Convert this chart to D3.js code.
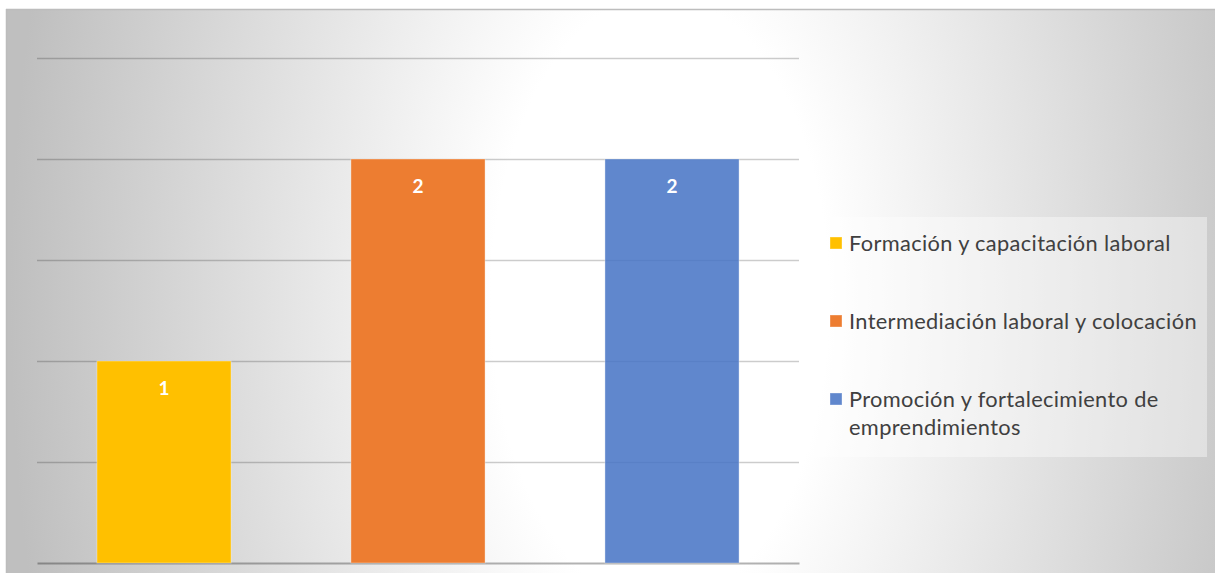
<!DOCTYPE html>
<html>
<head>
<meta charset="utf-8">
<script src="https://cdn.jsdelivr.net/npm/d3@7"></script>
<style>
  html, body { margin: 0; padding: 0; background: #ffffff; }
  svg { display: block; }
</style>
</head>
<body>
<svg id="chart" width="1215" height="573"></svg>
<script>
// Programs and how many each category counts
const categories = [
  "Formación y capacitación laboral",
  "Intermediación laboral y colocación",
  "Promoción y fortalecimiento de emprendimientos"
];
const values = [1, 2, 2];
const colors = ["#FFC000", "#ED7D31", "#4472C4"];
const fillOpacity = [1, 1, 0.85];
const legendLines = [
  ["Formación y capacitación laboral"],
  ["Intermediación laboral y colocación"],
  ["Promoción y fortalecimiento de", "emprendimientos"]
];
const gridTicks = [0.5, 1, 1.5, 2, 2.5];

const svg = d3.select("#chart");
const W = 1215, H = 573;

// Chart background: radial gradient, white in the middle, grey towards the sides
const defs = svg.append("defs");
const cx = 660, cy = 300;
const grad = defs.append("radialGradient")
  .attr("id", "bg")
  .attr("gradientUnits", "userSpaceOnUse")
  .attr("cx", cx).attr("cy", cy).attr("r", 650)
  .attr("gradientTransform", `translate(${cx},${cy}) scale(1,1.8) translate(${-cx},${-cy})`);
grad.append("stop").attr("offset", "0").attr("stop-color", "#ffffff");
grad.append("stop").attr("offset", "0.26").attr("stop-color", "#ffffff");
grad.append("stop").attr("offset", "1").attr("stop-color", "#bfbfbf");

svg.append("rect")
  .attr("x", 6).attr("y", 9).attr("width", W - 6).attr("height", H - 9)
  .attr("fill", "url(#bg)");
// Frame edges
svg.append("line").attr("x1", 6).attr("x2", W).attr("y1", 9.5).attr("y2", 9.5)
  .attr("stroke", "#bdbdbd").attr("stroke-width", 1.5);
svg.append("line").attr("x1", 6.5).attr("x2", 6.5).attr("y1", 9).attr("y2", H)
  .attr("stroke", "#bcbcbc").attr("stroke-width", 1.5);

// Scales
const x = d3.scaleBand().domain(categories).range([37, 799]).paddingInner(0.472).paddingOuter(0.236);
const y = d3.scaleLinear().domain([0, 2.5]).range([563, 58]);

// Gridlines
const grid = svg.append("g")
  .attr("transform", "translate(37,0)")
  .call(d3.axisLeft(y).tickValues(gridTicks).tickSize(-(799 - 37)).tickFormat(""));
grid.select(".domain").remove();
grid.selectAll(".tick line")
  .attr("stroke", "#000000")
  .attr("stroke-opacity", 0.2)
  .attr("stroke-width", 1.5);

// Baseline
const base = svg.append("g")
  .attr("transform", `translate(0,${y(0)})`)
  .call(d3.axisBottom(x).tickSize(0).tickFormat(""));
base.select(".domain")
  .attr("stroke", "#000000")
  .attr("stroke-opacity", 0.3)
  .attr("stroke-width", 2);

// Bars
svg.append("g").selectAll("rect")
  .data(values)
  .join("rect")
  .attr("x", (d, i) => x(categories[i]))
  .attr("y", d => y(d))
  .attr("width", x.bandwidth())
  .attr("height", d => y(0) - y(d))
  .attr("fill", (d, i) => colors[i])
  .attr("fill-opacity", (d, i) => fillOpacity[i])
  .attr("stroke", "#ffffff")
  .attr("stroke-opacity", 0.35)
  .attr("stroke-width", 1);

// Value labels
svg.append("g").selectAll("text")
  .data(values)
  .join("text")
  .attr("x", (d, i) => x(categories[i]) + x.bandwidth() / 2)
  .attr("y", d => y(d) + 34)
  .attr("text-anchor", "middle")
  .attr("font-family", "Lato, 'Open Sans', sans-serif")
  .attr("font-weight", "bold")
  .attr("font-size", 19)
  .attr("fill", "#ffffff")
  .text(d => d);

// Legend
const legend = svg.append("g");
legend.append("rect")
  .attr("x", 816).attr("y", 217).attr("width", 391).attr("height", 240)
  .attr("fill", "#ffffff").attr("fill-opacity", 0.4);

const rowY = [243, 321, 399];
const item = legend.selectAll("g.item")
  .data(categories)
  .join("g")
  .attr("class", "item");
item.append("rect")
  .attr("x", 830)
  .attr("y", (d, i) => rowY[i] - 6)
  .attr("width", 12).attr("height", 12)
  .attr("fill", (d, i) => colors[i])
  .attr("fill-opacity", (d, i) => fillOpacity[i])
  .attr("stroke", "#ffffff")
  .attr("stroke-opacity", 0.35);
item.append("text")
  .attr("x", 849)
  .attr("y", (d, i) => rowY[i] + 8)
  .attr("font-family", "Lato, 'Open Sans', sans-serif")
  .attr("font-size", 21.8)
  .attr("letter-spacing", 0.35)
  .attr("fill", "#404040")
  .each(function (d, i) {
    const t = d3.select(this);
    legendLines[i].forEach((line, k) => {
      t.append("tspan").attr("x", 849).attr("dy", k === 0 ? 0 : 28).text(line);
    });
  });
</script>
</body>
</html>
